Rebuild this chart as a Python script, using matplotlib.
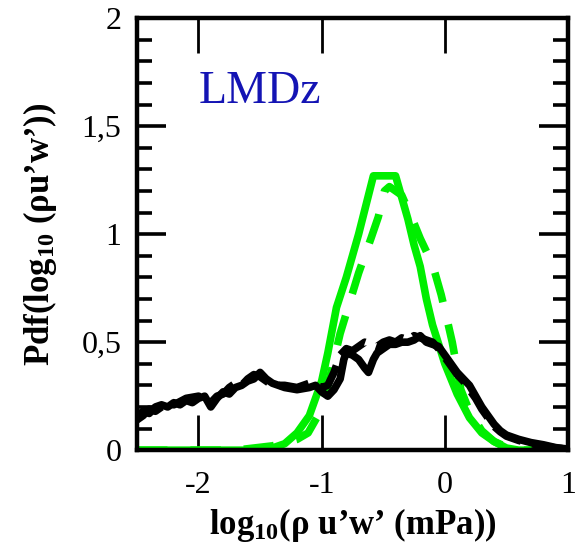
import matplotlib
matplotlib.use("Agg")
import matplotlib.pyplot as plt
from matplotlib.ticker import MultipleLocator, FixedLocator

plt.rcParams["font.family"] = ["Liberation Serif", "DejaVu Serif"]
plt.rcParams["mathtext.fontset"] = "custom"
plt.rcParams["mathtext.rm"] = "Liberation Serif"
plt.rcParams["mathtext.bf"] = "Liberation Serif:bold"
plt.rcParams["mathtext.default"] = "bf"

# PDF of log10 momentum flux, model (green) and reference (black)
green_solid_x = [-2.5, -1.6, -1.4, -1.3, -1.2, -1.1, -1.0, -0.95, -0.88, -0.8,
                 -0.7, -0.62, -0.58, -0.4, -0.35, -0.3, -0.25, -0.2, -0.15,
                 -0.1, 0.0, 0.1, 0.2, 0.3, 0.4, 0.5, 0.6, 1.0]
green_solid_y = [0.0, 0.0, 0.01, 0.03, 0.08, 0.16, 0.32, 0.45, 0.66, 0.80,
                 1.0, 1.18, 1.27, 1.27, 1.17, 1.07, 0.95, 0.85, 0.70,
                 0.58, 0.40, 0.26, 0.15, 0.08, 0.04, 0.01, 0.0, 0.0]

green_dash_x = [-2.5, -1.7, -1.4, -1.2, -1.11, -0.99, -0.85, -0.7, -0.6, -0.54,
                -0.49, -0.45, -0.35, -0.25, -0.2, -0.1, -0.03, 0.02, 0.06,
                0.13, 0.2, 0.3, 0.4, 0.5, 0.6, 1.0]
green_dash_y = [0.0, 0.0, 0.02, 0.05, 0.08, 0.20, 0.54, 0.82, 0.98, 1.08,
                1.20, 1.22, 1.18, 1.05, 0.98, 0.86, 0.72, 0.60, 0.50,
                0.28, 0.18, 0.09, 0.04, 0.015, 0.0, 0.0]

black_solid_x = [-2.5, -2.45, -2.4, -2.35, -2.3, -2.25, -2.2, -2.15, -2.1, -2.05,
                 -2.0, -1.95, -1.9, -1.85, -1.8, -1.75, -1.7, -1.65, -1.6, -1.55,
                 -1.5, -1.45, -1.4, -1.35, -1.3, -1.2, -1.1, -1.05, -1.0, -0.95,
                 -0.9, -0.85, -0.82, -0.8, -0.75, -0.7, -0.65, -0.62, -0.58, -0.55,
                 -0.5, -0.45, -0.4, -0.35, -0.3, -0.25, -0.2, -0.15, -0.1, -0.05,
                 0.0, 0.05, 0.1, 0.15, 0.2, 0.25, 0.3, 0.35, 0.4, 0.45,
                 0.5, 0.6, 0.7, 0.8, 0.9, 1.0]
black_solid_y = [0.16, 0.18, 0.17, 0.20, 0.21, 0.20, 0.22, 0.21, 0.23, 0.22,
                 0.24, 0.25, 0.20, 0.24, 0.27, 0.26, 0.29, 0.30, 0.32, 0.33,
                 0.36, 0.33, 0.31, 0.30, 0.29, 0.28, 0.29, 0.30, 0.27, 0.25,
                 0.28, 0.33, 0.42, 0.45, 0.44, 0.42, 0.38, 0.36, 0.42, 0.45,
                 0.47, 0.49, 0.49, 0.50, 0.50, 0.51, 0.53, 0.50, 0.49, 0.48,
                 0.44, 0.40, 0.36, 0.33, 0.30, 0.25, 0.20, 0.16, 0.12, 0.09,
                 0.07, 0.05, 0.035, 0.025, 0.012, 0.005]

black_dash_x = [-2.5, -2.45, -2.4, -2.35, -2.3, -2.25, -2.2, -2.1, -2.0, -1.95,
                -1.9, -1.85, -1.8, -1.75, -1.7, -1.65, -1.6, -1.55, -1.5, -1.45,
                -1.4, -1.3, -1.2, -1.1, -1.0, -0.95, -0.9, -0.85, -0.8, -0.75,
                -0.7, -0.65, -0.6, -0.55, -0.5, -0.45, -0.4, -0.35, -0.3, -0.25,
                -0.2, -0.15, -0.1, -0.05, 0.0, 0.05, 0.1, 0.15, 0.2, 0.25,
                0.3, 0.35, 0.4, 0.45, 0.5, 0.6, 0.7, 0.8, 0.9, 1.0]
black_dash_y = [0.14, 0.16, 0.19, 0.18, 0.20, 0.22, 0.21, 0.24, 0.25, 0.24,
                0.22, 0.25, 0.26, 0.29, 0.31, 0.30, 0.33, 0.35, 0.34, 0.32,
                0.30, 0.30, 0.29, 0.31, 0.29, 0.30, 0.36, 0.44, 0.47, 0.46,
                0.48, 0.50, 0.49, 0.48, 0.50, 0.51, 0.50, 0.52, 0.51, 0.53,
                0.52, 0.51, 0.50, 0.47, 0.43, 0.39, 0.35, 0.32, 0.28, 0.24,
                0.19, 0.15, 0.11, 0.085, 0.065, 0.045, 0.03, 0.02, 0.01, 0.005]

x_ticks = [-2, -1, 0, 1]
x_tick_labels = ["-2", "-1", "0", "1"]
y_ticks = [0, 0.5, 1, 1.5, 2]
y_tick_labels = ["0", "0,5", "1", "1,5", "2"]

green = "#00ee00"
fig = plt.figure(figsize=(5.85, 5.49), dpi=100)
ax = fig.add_axes([0.234, 0.180, 0.737, 0.787])

lw = 5.5
ax.plot(green_solid_x, green_solid_y, color=green, lw=lw, solid_joinstyle="round")
ax.plot(green_dash_x, green_dash_y, color=green, lw=lw, dashes=(4, 3))
ax.plot(black_dash_x, black_dash_y, color="black", lw=lw, dashes=(4, 1.5))
ax.plot(black_solid_x, black_solid_y, color="black", lw=lw, solid_joinstyle="round")

ax.set_xlim(-2.5, 1.0)
ax.set_ylim(0, 2)

for s in ax.spines.values():
    s.set_linewidth(3.2)

ax.xaxis.set_major_locator(FixedLocator(x_ticks))
ax.set_xticklabels(x_tick_labels)
ax.yaxis.set_major_locator(FixedLocator(y_ticks))
ax.set_yticklabels(y_tick_labels)
ax.yaxis.set_minor_locator(MultipleLocator(0.1))

ax.tick_params(axis="x", which="major", direction="in", length=25, width=2,
               top=True, bottom=True, labelsize=23, pad=15)
ax.tick_params(axis="y", which="major", direction="in", length=21, width=2.6,
               left=True, right=True, labelsize=23, pad=11)
ax.tick_params(axis="y", which="minor", direction="in", length=11, width=2.6,
               left=True, right=True)

ax.text(-1.5, 1.66, "LMDz", color="#1414b4", fontsize=33, ha="center", va="center")

ax.set_xlabel("log$_{10}$(ρ u’w’ (mPa))", fontsize=25, fontweight="bold", labelpad=4)
ax.set_ylabel("Pdf(log$_{10}$ (ρu’w’))", fontsize=25, fontweight="bold", labelpad=16)

fig.savefig("out.png", dpi=100)
